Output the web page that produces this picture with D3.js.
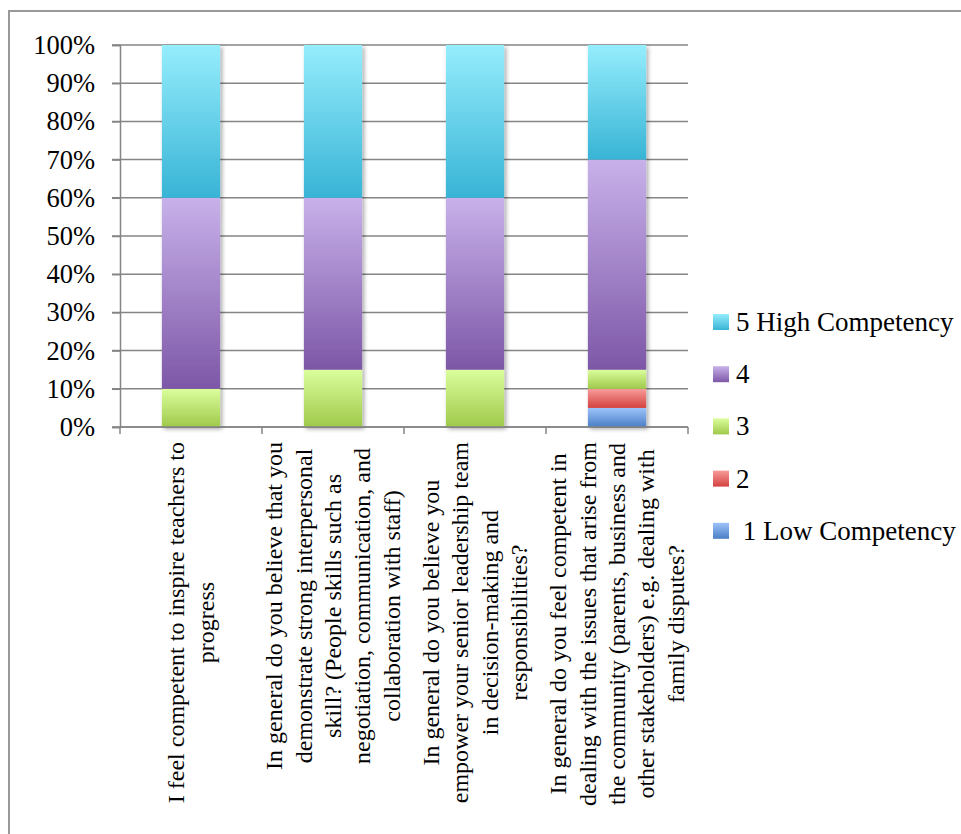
<html>
<script src="https://d3js.org/d3.v7.js"></script>
<body style="margin:0;background:#fff;">
<style>
    text { font-family: "Liberation Serif", "DejaVu Serif", serif; fill: #000; }
</style>
<div id="chart"></div>
<script>
    // categories (questions), one entry per bar
    let categories = ["q1", "q2", "q3", "q4"];
    let categoryLines = [
        ["I feel competent to inspire teachers to", "progress"],
        ["In general do you believe that you", "demonstrate strong interpersonal", "skill? (People skills such as",
            "negotiation, communication, and", "collaboration with staff)"],
        ["In general do you believe you", "empower your senior leadership team", "in decision-making and",
            "responsibilities?"],
        ["In general do you feel competent in", "dealing with the issues that arise from",
            "the community (parents, business and", "other stakeholders) e.g. dealing with", "family disputes?"]
    ];

    // series, bottom to top of each stack (percent)
    let seriesNames = ["1 Low Competency", "2", "3", "4", "5 High Competency"];
    let low1 = [0, 0, 0, 5];
    let two = [0, 0, 0, 5];
    let three = [10, 15, 15, 5];
    let four = [50, 45, 45, 55];
    let high5 = [40, 40, 40, 30];
    let seriesValues = [low1, two, three, four, high5];

    let yTicks = [0, 10, 20, 30, 40, 50, 60, 70, 80, 90, 100];

    let gradColors = [
        ["#9dc4fa", "#4a7ec6"],
        ["#f89c9a", "#d4423f"],
        ["#dbfe9c", "#9fc94b"],
        ["#c8b1ea", "#7d57a7"],
        ["#95edfc", "#38b4d6"]
    ];

    let width = 961, height = 834;
    let svg = d3.select("#chart").append("svg").attr("width", width).attr("height", height);

    let defs = svg.append("defs");
    gradColors.forEach((c, i) => {
        let g = defs.append("linearGradient").attr("id", "grad" + i)
            .attr("x1", 0).attr("y1", 0).attr("x2", 0).attr("y2", 1);
        g.append("stop").attr("offset", "0%").attr("stop-color", c[0]);
        g.append("stop").attr("offset", "100%").attr("stop-color", c[1]);
    });
    let shadow = defs.append("filter").attr("id", "shadow")
        .attr("x", "-20%").attr("y", "-5%").attr("width", "140%").attr("height", "110%");
    shadow.append("feDropShadow").attr("dx", 2).attr("dy", 2).attr("stdDeviation", 2)
        .attr("flood-color", "#000").attr("flood-opacity", 0.35);

    // outer chart border (runs off the bottom/right of the picture)
    svg.append("rect").attr("x", 9).attr("y", 11).attr("width", 1000).attr("height", 900)
        .attr("fill", "none").attr("stroke", "#999").attr("stroke-width", 2);

    let x = d3.scaleBand().domain(categories).range([120, 688]).paddingInner(0.59).paddingOuter(0.295);
    let y = d3.scaleLinear().domain([0, 100]).range([427, 45]);

    // gridlines
    svg.append("g").selectAll("line").data(yTicks).join("line")
        .attr("x1", 112).attr("x2", 688)
        .attr("y1", d => y(d)).attr("y2", d => y(d))
        .attr("stroke", "#858585").attr("stroke-width", 1.5);

    // y axis
    let yAxis = svg.append("g").attr("transform", "translate(120,0)")
        .call(d3.axisLeft(y).tickValues(yTicks).tickFormat(d => d + "%").tickSize(8).tickPadding(17));
    yAxis.select(".domain").attr("stroke", "#858585").attr("stroke-width", 1.5);
    yAxis.selectAll(".tick line").attr("stroke", "#858585").attr("stroke-width", 1.5);
    yAxis.selectAll("text").style("font-size", "26.5px").attr("font-family", null).attr("fill", "#000");

    // stacked bars
    let table = categories.map((c, i) => {
        let row = {cat: c};
        seriesNames.forEach((s, j) => row[s] = seriesValues[j][i]);
        return row;
    });
    let stacked = d3.stack().keys(seriesNames)(table);

    let barsG = svg.append("g").attr("filter", "url(#shadow)");
    stacked.forEach((layer, i) => {
        barsG.append("g").selectAll("rect").data(layer.filter(d => d[1] > d[0])).join("rect")
            .attr("x", d => x(d.data.cat))
            .attr("width", x.bandwidth())
            .attr("y", d => y(d[1]))
            .attr("height", d => y(d[0]) - y(d[1]))
            .attr("fill", "url(#grad" + i + ")");
    });

    // category axis with tick marks between categories
    let bounds = categories.map((c, i) => 120 + i * x.step());
    bounds.push(688);
    svg.append("line").attr("x1", 120).attr("x2", 688).attr("y1", y(0)).attr("y2", y(0))
        .attr("stroke", "#858585").attr("stroke-width", 1.5);
    svg.append("g").selectAll("line").data(bounds).join("line")
        .attr("x1", d => d).attr("x2", d => d).attr("y1", y(0)).attr("y2", y(0) + 7)
        .attr("stroke", "#858585").attr("stroke-width", 1.5);

    // rotated category labels
    let lineH = 29.3;
    categories.forEach((c, i) => {
        let cx = x(c) + x.bandwidth() / 2;
        let lines = categoryLines[i];
        let g = svg.append("g");
        let texts = g.selectAll("text").data(lines).join("text")
            .style("font-size", "24px")
            .attr("text-anchor", "middle")
            .text(d => d);
        let maxLen = d3.max(texts.nodes(), n => n.getComputedTextLength());
        let cy = 442 + maxLen / 2;
        texts.attr("transform", (d, k) => {
            let lx = cx + (k - (lines.length - 1) / 2) * lineH + 8;
            return `translate(${lx},${cy}) rotate(-90)`;
        });
    });

    // legend, top item is the top series
    let legendOrder = seriesNames.map((s, i) => i).reverse();
    let legend = svg.append("g").selectAll("g").data(legendOrder).join("g")
        .attr("transform", (d, k) => `translate(713,${322 + k * 52.2})`);
    legend.append("rect").attr("x", 0).attr("y", -8).attr("width", 16).attr("height", 16)
        .attr("fill", d => "url(#grad" + d + ")");
    legend.append("text").attr("x", 23).attr("y", 9)
        .style("font-size", "27px").style("white-space", "pre")
        .text(d => (d === 0 ? " " : "") + seriesNames[d]);
</script>
</body>
</html>
